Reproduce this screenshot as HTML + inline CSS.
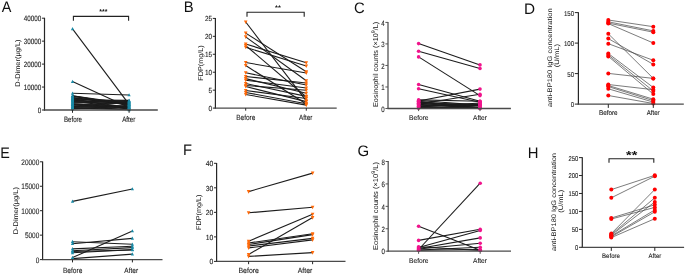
<!DOCTYPE html>
<html><head><meta charset="utf-8"><style>
html,body{margin:0;padding:0;background:#fff;overflow:hidden;}
svg{display:block;will-change:transform;}
text{text-rendering:geometricPrecision;font-family:"Liberation Sans", sans-serif;fill:#1a1a1a;stroke:#1a1a1a;stroke-width:0.1px;}
text.lt{stroke:none;fill:#111;}
text.yl{stroke:none;fill:#111;}
text.st{stroke:none;font-weight:bold;fill:#111;}
</style></head><body>
<svg width="685" height="275" viewBox="0 0 685 275">
<rect width="685" height="275" fill="#fff"/>
<text x="1.67" y="11.60" font-size="15.2" text-anchor="start" textLength="9.66" lengthAdjust="spacingAndGlyphs" class="lt">A</text>
<line x1="72.50" y1="28.80" x2="129.10" y2="104.40" stroke="#1c1c1c" stroke-width="1.1"/>
<line x1="72.50" y1="81.60" x2="129.10" y2="107.50" stroke="#1c1c1c" stroke-width="1.1"/>
<line x1="72.50" y1="93.30" x2="129.10" y2="95.00" stroke="#1c1c1c" stroke-width="1.1"/>
<line x1="72.50" y1="95.83" x2="129.10" y2="105.29" stroke="#1c1c1c" stroke-width="1.1"/>
<line x1="72.50" y1="95.84" x2="129.10" y2="103.78" stroke="#1c1c1c" stroke-width="1.1"/>
<line x1="72.50" y1="96.36" x2="129.10" y2="104.54" stroke="#1c1c1c" stroke-width="1.1"/>
<line x1="72.50" y1="97.50" x2="129.10" y2="104.16" stroke="#1c1c1c" stroke-width="1.1"/>
<line x1="72.50" y1="97.85" x2="129.10" y2="104.91" stroke="#1c1c1c" stroke-width="1.1"/>
<line x1="72.50" y1="98.51" x2="129.10" y2="109.42" stroke="#1c1c1c" stroke-width="1.1"/>
<line x1="72.50" y1="98.74" x2="129.10" y2="101.53" stroke="#1c1c1c" stroke-width="1.1"/>
<line x1="72.50" y1="99.47" x2="129.10" y2="107.54" stroke="#1c1c1c" stroke-width="1.1"/>
<line x1="72.50" y1="99.74" x2="129.10" y2="100.40" stroke="#1c1c1c" stroke-width="1.1"/>
<line x1="72.50" y1="100.31" x2="129.10" y2="103.41" stroke="#1c1c1c" stroke-width="1.1"/>
<line x1="72.50" y1="100.90" x2="129.10" y2="108.67" stroke="#1c1c1c" stroke-width="1.1"/>
<line x1="72.50" y1="101.24" x2="129.10" y2="101.15" stroke="#1c1c1c" stroke-width="1.1"/>
<line x1="72.50" y1="101.84" x2="129.10" y2="101.90" stroke="#1c1c1c" stroke-width="1.1"/>
<line x1="72.50" y1="102.78" x2="129.10" y2="103.03" stroke="#1c1c1c" stroke-width="1.1"/>
<line x1="72.50" y1="103.15" x2="129.10" y2="100.78" stroke="#1c1c1c" stroke-width="1.1"/>
<line x1="72.50" y1="103.80" x2="129.10" y2="107.92" stroke="#1c1c1c" stroke-width="1.1"/>
<line x1="72.50" y1="104.61" x2="129.10" y2="106.04" stroke="#1c1c1c" stroke-width="1.1"/>
<line x1="72.50" y1="104.56" x2="129.10" y2="108.30" stroke="#1c1c1c" stroke-width="1.1"/>
<line x1="72.50" y1="105.22" x2="129.10" y2="102.28" stroke="#1c1c1c" stroke-width="1.1"/>
<line x1="72.50" y1="106.12" x2="129.10" y2="102.66" stroke="#1c1c1c" stroke-width="1.1"/>
<line x1="72.50" y1="106.49" x2="129.10" y2="107.17" stroke="#1c1c1c" stroke-width="1.1"/>
<line x1="72.50" y1="106.69" x2="129.10" y2="106.42" stroke="#1c1c1c" stroke-width="1.1"/>
<line x1="72.50" y1="107.61" x2="129.10" y2="109.05" stroke="#1c1c1c" stroke-width="1.1"/>
<line x1="72.50" y1="107.84" x2="129.10" y2="109.80" stroke="#1c1c1c" stroke-width="1.1"/>
<line x1="72.50" y1="108.38" x2="129.10" y2="106.79" stroke="#1c1c1c" stroke-width="1.1"/>
<line x1="72.50" y1="109.05" x2="129.10" y2="105.66" stroke="#1c1c1c" stroke-width="1.1"/>
<path d="M72.50,26.96 L74.10,30.16 L70.90,30.16Z" fill="#1a8aa6"/>
<path d="M129.10,102.56 L130.70,105.76 L127.50,105.76Z" fill="#1a8aa6"/>
<path d="M72.50,79.76 L74.10,82.96 L70.90,82.96Z" fill="#1a8aa6"/>
<path d="M129.10,105.66 L130.70,108.86 L127.50,108.86Z" fill="#1a8aa6"/>
<path d="M72.50,91.46 L74.10,94.66 L70.90,94.66Z" fill="#1a8aa6"/>
<path d="M129.10,93.16 L130.70,96.36 L127.50,96.36Z" fill="#1a8aa6"/>
<path d="M72.50,93.99 L74.10,97.19 L70.90,97.19Z" fill="#1a8aa6"/>
<path d="M129.10,103.45 L130.70,106.65 L127.50,106.65Z" fill="#1a8aa6"/>
<path d="M72.50,94.00 L74.10,97.20 L70.90,97.20Z" fill="#1a8aa6"/>
<path d="M129.10,101.94 L130.70,105.14 L127.50,105.14Z" fill="#1a8aa6"/>
<path d="M72.50,94.52 L74.10,97.72 L70.90,97.72Z" fill="#1a8aa6"/>
<path d="M129.10,102.70 L130.70,105.90 L127.50,105.90Z" fill="#1a8aa6"/>
<path d="M72.50,95.66 L74.10,98.86 L70.90,98.86Z" fill="#1a8aa6"/>
<path d="M129.10,102.32 L130.70,105.52 L127.50,105.52Z" fill="#1a8aa6"/>
<path d="M72.50,96.01 L74.10,99.21 L70.90,99.21Z" fill="#1a8aa6"/>
<path d="M129.10,103.07 L130.70,106.27 L127.50,106.27Z" fill="#1a8aa6"/>
<path d="M72.50,96.67 L74.10,99.87 L70.90,99.87Z" fill="#1a8aa6"/>
<path d="M129.10,107.58 L130.70,110.78 L127.50,110.78Z" fill="#1a8aa6"/>
<path d="M72.50,96.90 L74.10,100.10 L70.90,100.10Z" fill="#1a8aa6"/>
<path d="M129.10,99.69 L130.70,102.89 L127.50,102.89Z" fill="#1a8aa6"/>
<path d="M72.50,97.63 L74.10,100.83 L70.90,100.83Z" fill="#1a8aa6"/>
<path d="M129.10,105.70 L130.70,108.90 L127.50,108.90Z" fill="#1a8aa6"/>
<path d="M72.50,97.90 L74.10,101.10 L70.90,101.10Z" fill="#1a8aa6"/>
<path d="M129.10,98.56 L130.70,101.76 L127.50,101.76Z" fill="#1a8aa6"/>
<path d="M72.50,98.47 L74.10,101.67 L70.90,101.67Z" fill="#1a8aa6"/>
<path d="M129.10,101.57 L130.70,104.77 L127.50,104.77Z" fill="#1a8aa6"/>
<path d="M72.50,99.06 L74.10,102.26 L70.90,102.26Z" fill="#1a8aa6"/>
<path d="M129.10,106.83 L130.70,110.03 L127.50,110.03Z" fill="#1a8aa6"/>
<path d="M72.50,99.40 L74.10,102.60 L70.90,102.60Z" fill="#1a8aa6"/>
<path d="M129.10,99.31 L130.70,102.51 L127.50,102.51Z" fill="#1a8aa6"/>
<path d="M72.50,100.00 L74.10,103.20 L70.90,103.20Z" fill="#1a8aa6"/>
<path d="M129.10,100.06 L130.70,103.26 L127.50,103.26Z" fill="#1a8aa6"/>
<path d="M72.50,100.94 L74.10,104.14 L70.90,104.14Z" fill="#1a8aa6"/>
<path d="M129.10,101.19 L130.70,104.39 L127.50,104.39Z" fill="#1a8aa6"/>
<path d="M72.50,101.31 L74.10,104.51 L70.90,104.51Z" fill="#1a8aa6"/>
<path d="M129.10,98.94 L130.70,102.14 L127.50,102.14Z" fill="#1a8aa6"/>
<path d="M72.50,101.96 L74.10,105.16 L70.90,105.16Z" fill="#1a8aa6"/>
<path d="M129.10,106.08 L130.70,109.28 L127.50,109.28Z" fill="#1a8aa6"/>
<path d="M72.50,102.77 L74.10,105.97 L70.90,105.97Z" fill="#1a8aa6"/>
<path d="M129.10,104.20 L130.70,107.40 L127.50,107.40Z" fill="#1a8aa6"/>
<path d="M72.50,102.72 L74.10,105.92 L70.90,105.92Z" fill="#1a8aa6"/>
<path d="M129.10,106.46 L130.70,109.66 L127.50,109.66Z" fill="#1a8aa6"/>
<path d="M72.50,103.38 L74.10,106.58 L70.90,106.58Z" fill="#1a8aa6"/>
<path d="M129.10,100.44 L130.70,103.64 L127.50,103.64Z" fill="#1a8aa6"/>
<path d="M72.50,104.28 L74.10,107.48 L70.90,107.48Z" fill="#1a8aa6"/>
<path d="M129.10,100.82 L130.70,104.02 L127.50,104.02Z" fill="#1a8aa6"/>
<path d="M72.50,104.65 L74.10,107.85 L70.90,107.85Z" fill="#1a8aa6"/>
<path d="M129.10,105.33 L130.70,108.53 L127.50,108.53Z" fill="#1a8aa6"/>
<path d="M72.50,104.85 L74.10,108.05 L70.90,108.05Z" fill="#1a8aa6"/>
<path d="M129.10,104.58 L130.70,107.78 L127.50,107.78Z" fill="#1a8aa6"/>
<path d="M72.50,105.77 L74.10,108.97 L70.90,108.97Z" fill="#1a8aa6"/>
<path d="M129.10,107.21 L130.70,110.41 L127.50,110.41Z" fill="#1a8aa6"/>
<path d="M72.50,106.00 L74.10,109.20 L70.90,109.20Z" fill="#1a8aa6"/>
<path d="M129.10,107.96 L130.70,111.16 L127.50,111.16Z" fill="#1a8aa6"/>
<path d="M72.50,106.54 L74.10,109.74 L70.90,109.74Z" fill="#1a8aa6"/>
<path d="M129.10,104.95 L130.70,108.15 L127.50,108.15Z" fill="#1a8aa6"/>
<path d="M72.50,107.21 L74.10,110.41 L70.90,110.41Z" fill="#1a8aa6"/>
<path d="M129.10,103.82 L130.70,107.02 L127.50,107.02Z" fill="#1a8aa6"/>
<line x1="44.50" y1="17.80" x2="44.50" y2="110.50" stroke="#262626" stroke-width="1.2"/>
<line x1="43.90" y1="110.00" x2="157.80" y2="110.00" stroke="#4a4a4a" stroke-width="1.3"/>
<line x1="41.90" y1="18.20" x2="44.50" y2="18.20" stroke="#262626" stroke-width="1"/>
<text x="41.20" y="21.39" font-size="7.8" text-anchor="end" textLength="17.5" lengthAdjust="spacingAndGlyphs">40000</text>
<line x1="41.90" y1="41.15" x2="44.50" y2="41.15" stroke="#262626" stroke-width="1"/>
<text x="41.20" y="44.34" font-size="7.8" text-anchor="end" textLength="17.5" lengthAdjust="spacingAndGlyphs">30000</text>
<line x1="41.90" y1="64.10" x2="44.50" y2="64.10" stroke="#262626" stroke-width="1"/>
<text x="41.20" y="67.29" font-size="7.8" text-anchor="end" textLength="17.5" lengthAdjust="spacingAndGlyphs">20000</text>
<line x1="41.90" y1="87.05" x2="44.50" y2="87.05" stroke="#262626" stroke-width="1"/>
<text x="41.20" y="90.24" font-size="7.8" text-anchor="end" textLength="17.5" lengthAdjust="spacingAndGlyphs">10000</text>
<line x1="41.90" y1="110.00" x2="44.50" y2="110.00" stroke="#262626" stroke-width="1"/>
<text x="41.20" y="113.19" font-size="7.8" text-anchor="end" textLength="3.5" lengthAdjust="spacingAndGlyphs">0</text>
<line x1="72.50" y1="110.00" x2="72.50" y2="112.80" stroke="#262626" stroke-width="1"/>
<line x1="129.10" y1="110.00" x2="129.10" y2="112.80" stroke="#262626" stroke-width="1"/>
<text x="73.00" y="121.70" font-size="7.8" text-anchor="middle" textLength="18.0" lengthAdjust="spacingAndGlyphs">Before</text>
<text x="128.70" y="121.70" font-size="7.8" text-anchor="middle" textLength="13.1" lengthAdjust="spacingAndGlyphs">After</text>
<text transform="translate(20.2,63.1) rotate(-90)" x="0" y="0" font-size="6.9" text-anchor="middle" textLength="47.2" lengthAdjust="spacingAndGlyphs" class="yl">D-Dimer(μg/L)</text>
<path d="M73.4,20.8 V16.4 H128.6 V20.8" fill="none" stroke="#222" stroke-width="1.1"/>
<text x="103.30" y="13.90" font-size="7.2" text-anchor="middle" textLength="8.2" lengthAdjust="spacingAndGlyphs" class="st">***</text>
<text x="183.70" y="11.80" font-size="15.2" text-anchor="start" textLength="9.89" lengthAdjust="spacingAndGlyphs" class="lt">B</text>
<line x1="245.70" y1="22.00" x2="306.30" y2="100.80" stroke="#1c1c1c" stroke-width="1.1"/>
<line x1="245.70" y1="33.10" x2="306.30" y2="71.80" stroke="#1c1c1c" stroke-width="1.1"/>
<line x1="245.70" y1="36.90" x2="306.30" y2="80.70" stroke="#1c1c1c" stroke-width="1.1"/>
<line x1="245.70" y1="44.00" x2="306.30" y2="62.80" stroke="#1c1c1c" stroke-width="1.1"/>
<line x1="245.70" y1="45.60" x2="306.30" y2="97.00" stroke="#1c1c1c" stroke-width="1.1"/>
<line x1="245.70" y1="47.30" x2="306.30" y2="66.00" stroke="#1c1c1c" stroke-width="1.1"/>
<line x1="245.70" y1="62.50" x2="306.30" y2="73.00" stroke="#1c1c1c" stroke-width="1.1"/>
<line x1="245.70" y1="65.50" x2="306.30" y2="104.00" stroke="#1c1c1c" stroke-width="1.1"/>
<line x1="245.70" y1="72.80" x2="306.30" y2="85.00" stroke="#1c1c1c" stroke-width="1.1"/>
<line x1="245.70" y1="76.50" x2="306.30" y2="83.00" stroke="#1c1c1c" stroke-width="1.1"/>
<line x1="245.70" y1="80.20" x2="306.30" y2="88.00" stroke="#1c1c1c" stroke-width="1.1"/>
<line x1="245.70" y1="78.60" x2="306.30" y2="93.30" stroke="#1c1c1c" stroke-width="1.1"/>
<line x1="245.70" y1="83.50" x2="306.30" y2="96.40" stroke="#1c1c1c" stroke-width="1.1"/>
<line x1="245.70" y1="85.50" x2="306.30" y2="90.20" stroke="#1c1c1c" stroke-width="1.1"/>
<line x1="245.70" y1="86.50" x2="306.30" y2="101.60" stroke="#1c1c1c" stroke-width="1.1"/>
<line x1="245.70" y1="90.50" x2="306.30" y2="98.50" stroke="#1c1c1c" stroke-width="1.1"/>
<line x1="245.70" y1="92.50" x2="306.30" y2="103.70" stroke="#1c1c1c" stroke-width="1.1"/>
<line x1="245.70" y1="94.50" x2="306.30" y2="105.10" stroke="#1c1c1c" stroke-width="1.1"/>
<path d="M243.90,20.47 L247.50,20.47 L245.70,24.07Z" fill="#ff6a0a"/>
<path d="M304.50,99.27 L308.10,99.27 L306.30,102.87Z" fill="#ff6a0a"/>
<path d="M243.90,31.57 L247.50,31.57 L245.70,35.17Z" fill="#ff6a0a"/>
<path d="M304.50,70.27 L308.10,70.27 L306.30,73.87Z" fill="#ff6a0a"/>
<path d="M243.90,35.37 L247.50,35.37 L245.70,38.97Z" fill="#ff6a0a"/>
<path d="M304.50,79.17 L308.10,79.17 L306.30,82.77Z" fill="#ff6a0a"/>
<path d="M243.90,42.47 L247.50,42.47 L245.70,46.07Z" fill="#ff6a0a"/>
<path d="M304.50,61.27 L308.10,61.27 L306.30,64.87Z" fill="#ff6a0a"/>
<path d="M243.90,44.07 L247.50,44.07 L245.70,47.67Z" fill="#ff6a0a"/>
<path d="M304.50,95.47 L308.10,95.47 L306.30,99.07Z" fill="#ff6a0a"/>
<path d="M243.90,45.77 L247.50,45.77 L245.70,49.37Z" fill="#ff6a0a"/>
<path d="M304.50,64.47 L308.10,64.47 L306.30,68.07Z" fill="#ff6a0a"/>
<path d="M243.90,60.97 L247.50,60.97 L245.70,64.57Z" fill="#ff6a0a"/>
<path d="M304.50,71.47 L308.10,71.47 L306.30,75.07Z" fill="#ff6a0a"/>
<path d="M243.90,63.97 L247.50,63.97 L245.70,67.57Z" fill="#ff6a0a"/>
<path d="M304.50,102.47 L308.10,102.47 L306.30,106.07Z" fill="#ff6a0a"/>
<path d="M243.90,71.27 L247.50,71.27 L245.70,74.87Z" fill="#ff6a0a"/>
<path d="M304.50,83.47 L308.10,83.47 L306.30,87.07Z" fill="#ff6a0a"/>
<path d="M243.90,74.97 L247.50,74.97 L245.70,78.57Z" fill="#ff6a0a"/>
<path d="M304.50,81.47 L308.10,81.47 L306.30,85.07Z" fill="#ff6a0a"/>
<path d="M243.90,78.67 L247.50,78.67 L245.70,82.27Z" fill="#ff6a0a"/>
<path d="M304.50,86.47 L308.10,86.47 L306.30,90.07Z" fill="#ff6a0a"/>
<path d="M243.90,77.07 L247.50,77.07 L245.70,80.67Z" fill="#ff6a0a"/>
<path d="M304.50,91.77 L308.10,91.77 L306.30,95.37Z" fill="#ff6a0a"/>
<path d="M243.90,81.97 L247.50,81.97 L245.70,85.57Z" fill="#ff6a0a"/>
<path d="M304.50,94.87 L308.10,94.87 L306.30,98.47Z" fill="#ff6a0a"/>
<path d="M243.90,83.97 L247.50,83.97 L245.70,87.57Z" fill="#ff6a0a"/>
<path d="M304.50,88.67 L308.10,88.67 L306.30,92.27Z" fill="#ff6a0a"/>
<path d="M243.90,84.97 L247.50,84.97 L245.70,88.57Z" fill="#ff6a0a"/>
<path d="M304.50,100.07 L308.10,100.07 L306.30,103.67Z" fill="#ff6a0a"/>
<path d="M243.90,88.97 L247.50,88.97 L245.70,92.57Z" fill="#ff6a0a"/>
<path d="M304.50,96.97 L308.10,96.97 L306.30,100.57Z" fill="#ff6a0a"/>
<path d="M243.90,90.97 L247.50,90.97 L245.70,94.57Z" fill="#ff6a0a"/>
<path d="M304.50,102.17 L308.10,102.17 L306.30,105.77Z" fill="#ff6a0a"/>
<path d="M243.90,92.97 L247.50,92.97 L245.70,96.57Z" fill="#ff6a0a"/>
<path d="M304.50,103.57 L308.10,103.57 L306.30,107.17Z" fill="#ff6a0a"/>
<line x1="215.40" y1="18.00" x2="215.40" y2="108.60" stroke="#262626" stroke-width="1.2"/>
<line x1="214.80" y1="108.10" x2="336.70" y2="108.10" stroke="#4a4a4a" stroke-width="1.3"/>
<line x1="212.80" y1="18.40" x2="215.40" y2="18.40" stroke="#262626" stroke-width="1"/>
<text x="212.10" y="21.45" font-size="7.4" text-anchor="end" textLength="7.2" lengthAdjust="spacingAndGlyphs">25</text>
<line x1="212.80" y1="36.34" x2="215.40" y2="36.34" stroke="#262626" stroke-width="1"/>
<text x="212.10" y="39.39" font-size="7.4" text-anchor="end" textLength="7.2" lengthAdjust="spacingAndGlyphs">20</text>
<line x1="212.80" y1="54.28" x2="215.40" y2="54.28" stroke="#262626" stroke-width="1"/>
<text x="212.10" y="57.33" font-size="7.4" text-anchor="end" textLength="7.2" lengthAdjust="spacingAndGlyphs">15</text>
<line x1="212.80" y1="72.22" x2="215.40" y2="72.22" stroke="#262626" stroke-width="1"/>
<text x="212.10" y="75.27" font-size="7.4" text-anchor="end" textLength="7.2" lengthAdjust="spacingAndGlyphs">10</text>
<line x1="212.80" y1="90.16" x2="215.40" y2="90.16" stroke="#262626" stroke-width="1"/>
<text x="212.10" y="93.21" font-size="7.4" text-anchor="end" textLength="3.6" lengthAdjust="spacingAndGlyphs">5</text>
<line x1="212.80" y1="108.10" x2="215.40" y2="108.10" stroke="#262626" stroke-width="1"/>
<text x="212.10" y="111.15" font-size="7.4" text-anchor="end" textLength="3.6" lengthAdjust="spacingAndGlyphs">0</text>
<line x1="245.70" y1="108.10" x2="245.70" y2="110.70" stroke="#262626" stroke-width="1"/>
<line x1="306.30" y1="108.10" x2="306.30" y2="110.70" stroke="#262626" stroke-width="1"/>
<text x="245.80" y="119.70" font-size="7.6" text-anchor="middle" textLength="19.1" lengthAdjust="spacingAndGlyphs">Before</text>
<text x="305.70" y="119.70" font-size="7.6" text-anchor="middle" textLength="13.4" lengthAdjust="spacingAndGlyphs">After</text>
<text transform="translate(202.6,63.0) rotate(-90)" x="0" y="0" font-size="6.9" text-anchor="middle" textLength="35.4" lengthAdjust="spacingAndGlyphs" class="yl">FDP(mg/L)</text>
<path d="M247,16.7 V12.3 H304.2 V16.7" fill="none" stroke="#222" stroke-width="1.1"/>
<text x="278.00" y="9.60" font-size="6.8" text-anchor="middle" textLength="5.8" lengthAdjust="spacingAndGlyphs" class="st">**</text>
<text x="353.90" y="12.60" font-size="15.2" text-anchor="start" textLength="10.69" lengthAdjust="spacingAndGlyphs" class="lt">C</text>
<line x1="418.60" y1="43.60" x2="480.00" y2="64.90" stroke="#1c1c1c" stroke-width="1.1"/>
<line x1="418.60" y1="51.30" x2="480.00" y2="68.50" stroke="#1c1c1c" stroke-width="1.1"/>
<line x1="418.60" y1="56.90" x2="480.00" y2="95.60" stroke="#1c1c1c" stroke-width="1.1"/>
<line x1="418.60" y1="84.50" x2="480.00" y2="101.20" stroke="#1c1c1c" stroke-width="1.1"/>
<line x1="418.60" y1="88.80" x2="480.00" y2="102.30" stroke="#1c1c1c" stroke-width="1.1"/>
<line x1="418.60" y1="101.00" x2="480.00" y2="89.10" stroke="#1c1c1c" stroke-width="1.1"/>
<line x1="418.60" y1="104.00" x2="480.00" y2="94.20" stroke="#1c1c1c" stroke-width="1.1"/>
<line x1="418.60" y1="108.28" x2="480.00" y2="106.00" stroke="#1c1c1c" stroke-width="1.1"/>
<line x1="418.60" y1="107.64" x2="480.00" y2="107.48" stroke="#1c1c1c" stroke-width="1.1"/>
<line x1="418.60" y1="106.99" x2="480.00" y2="102.99" stroke="#1c1c1c" stroke-width="1.1"/>
<line x1="418.60" y1="106.35" x2="480.00" y2="108.10" stroke="#1c1c1c" stroke-width="1.1"/>
<line x1="418.60" y1="105.71" x2="480.00" y2="104.07" stroke="#1c1c1c" stroke-width="1.1"/>
<line x1="418.60" y1="105.06" x2="480.00" y2="105.62" stroke="#1c1c1c" stroke-width="1.1"/>
<line x1="418.60" y1="104.42" x2="480.00" y2="108.21" stroke="#1c1c1c" stroke-width="1.1"/>
<line x1="418.60" y1="103.78" x2="480.00" y2="104.33" stroke="#1c1c1c" stroke-width="1.1"/>
<line x1="418.60" y1="103.14" x2="480.00" y2="108.36" stroke="#1c1c1c" stroke-width="1.1"/>
<line x1="418.60" y1="102.49" x2="480.00" y2="105.01" stroke="#1c1c1c" stroke-width="1.1"/>
<line x1="418.60" y1="101.85" x2="480.00" y2="108.12" stroke="#1c1c1c" stroke-width="1.1"/>
<line x1="418.60" y1="101.21" x2="480.00" y2="107.96" stroke="#1c1c1c" stroke-width="1.1"/>
<line x1="418.60" y1="100.56" x2="480.00" y2="105.09" stroke="#1c1c1c" stroke-width="1.1"/>
<line x1="418.60" y1="99.92" x2="480.00" y2="101.30" stroke="#1c1c1c" stroke-width="1.1"/>
<circle cx="418.60" cy="43.60" r="1.8" fill="#f0148c"/>
<circle cx="480.00" cy="64.90" r="1.8" fill="#f0148c"/>
<circle cx="418.60" cy="51.30" r="1.8" fill="#f0148c"/>
<circle cx="480.00" cy="68.50" r="1.8" fill="#f0148c"/>
<circle cx="418.60" cy="56.90" r="1.8" fill="#f0148c"/>
<circle cx="480.00" cy="95.60" r="1.8" fill="#f0148c"/>
<circle cx="418.60" cy="84.50" r="1.8" fill="#f0148c"/>
<circle cx="480.00" cy="101.20" r="1.8" fill="#f0148c"/>
<circle cx="418.60" cy="88.80" r="1.8" fill="#f0148c"/>
<circle cx="480.00" cy="102.30" r="1.8" fill="#f0148c"/>
<circle cx="418.60" cy="101.00" r="1.8" fill="#f0148c"/>
<circle cx="480.00" cy="89.10" r="1.8" fill="#f0148c"/>
<circle cx="418.60" cy="104.00" r="1.8" fill="#f0148c"/>
<circle cx="480.00" cy="94.20" r="1.8" fill="#f0148c"/>
<circle cx="418.60" cy="108.28" r="1.8" fill="#f0148c"/>
<circle cx="480.00" cy="106.00" r="1.8" fill="#f0148c"/>
<circle cx="418.60" cy="107.64" r="1.8" fill="#f0148c"/>
<circle cx="480.00" cy="107.48" r="1.8" fill="#f0148c"/>
<circle cx="418.60" cy="106.99" r="1.8" fill="#f0148c"/>
<circle cx="480.00" cy="102.99" r="1.8" fill="#f0148c"/>
<circle cx="418.60" cy="106.35" r="1.8" fill="#f0148c"/>
<circle cx="480.00" cy="108.10" r="1.8" fill="#f0148c"/>
<circle cx="418.60" cy="105.71" r="1.8" fill="#f0148c"/>
<circle cx="480.00" cy="104.07" r="1.8" fill="#f0148c"/>
<circle cx="418.60" cy="105.06" r="1.8" fill="#f0148c"/>
<circle cx="480.00" cy="105.62" r="1.8" fill="#f0148c"/>
<circle cx="418.60" cy="104.42" r="1.8" fill="#f0148c"/>
<circle cx="480.00" cy="108.21" r="1.8" fill="#f0148c"/>
<circle cx="418.60" cy="103.78" r="1.8" fill="#f0148c"/>
<circle cx="480.00" cy="104.33" r="1.8" fill="#f0148c"/>
<circle cx="418.60" cy="103.14" r="1.8" fill="#f0148c"/>
<circle cx="480.00" cy="108.36" r="1.8" fill="#f0148c"/>
<circle cx="418.60" cy="102.49" r="1.8" fill="#f0148c"/>
<circle cx="480.00" cy="105.01" r="1.8" fill="#f0148c"/>
<circle cx="418.60" cy="101.85" r="1.8" fill="#f0148c"/>
<circle cx="480.00" cy="108.12" r="1.8" fill="#f0148c"/>
<circle cx="418.60" cy="101.21" r="1.8" fill="#f0148c"/>
<circle cx="480.00" cy="107.96" r="1.8" fill="#f0148c"/>
<circle cx="418.60" cy="100.56" r="1.8" fill="#f0148c"/>
<circle cx="480.00" cy="105.09" r="1.8" fill="#f0148c"/>
<circle cx="418.60" cy="99.92" r="1.8" fill="#f0148c"/>
<circle cx="480.00" cy="101.30" r="1.8" fill="#f0148c"/>
<line x1="388.00" y1="22.00" x2="388.00" y2="109.00" stroke="#555" stroke-width="1.3"/>
<line x1="387.40" y1="108.50" x2="510.90" y2="108.50" stroke="#4a4a4a" stroke-width="1.3"/>
<line x1="385.40" y1="22.40" x2="388.00" y2="22.40" stroke="#555" stroke-width="1"/>
<text x="384.70" y="25.59" font-size="7.8" text-anchor="end" textLength="3.4" lengthAdjust="spacingAndGlyphs">4</text>
<line x1="385.40" y1="43.92" x2="388.00" y2="43.92" stroke="#555" stroke-width="1"/>
<text x="384.70" y="47.12" font-size="7.8" text-anchor="end" textLength="3.4" lengthAdjust="spacingAndGlyphs">3</text>
<line x1="385.40" y1="65.45" x2="388.00" y2="65.45" stroke="#555" stroke-width="1"/>
<text x="384.70" y="68.64" font-size="7.8" text-anchor="end" textLength="3.4" lengthAdjust="spacingAndGlyphs">2</text>
<line x1="385.40" y1="86.97" x2="388.00" y2="86.97" stroke="#555" stroke-width="1"/>
<text x="384.70" y="90.17" font-size="7.8" text-anchor="end" textLength="3.4" lengthAdjust="spacingAndGlyphs">1</text>
<line x1="385.40" y1="108.50" x2="388.00" y2="108.50" stroke="#555" stroke-width="1"/>
<text x="384.70" y="111.69" font-size="7.8" text-anchor="end" textLength="3.4" lengthAdjust="spacingAndGlyphs">0</text>
<line x1="418.60" y1="108.50" x2="418.60" y2="111.10" stroke="#555" stroke-width="1"/>
<line x1="480.00" y1="108.50" x2="480.00" y2="111.10" stroke="#555" stroke-width="1"/>
<text x="418.80" y="119.80" font-size="7.0" text-anchor="middle" textLength="19.5" lengthAdjust="spacingAndGlyphs">Before</text>
<text x="480.00" y="119.80" font-size="7.0" text-anchor="middle" textLength="13.9" lengthAdjust="spacingAndGlyphs">After</text>
<text transform="translate(377.9,64.4) rotate(-90)" x="0" y="0" font-size="7.1" text-anchor="middle" textLength="85.2" lengthAdjust="spacingAndGlyphs" class="yl">Eosinophil counts (×10<tspan dy="-2.5" font-size="5.2">9</tspan><tspan dy="2.5">/L)</tspan></text>
<text x="523.90" y="13.50" font-size="15.2" text-anchor="start" textLength="11.08" lengthAdjust="spacingAndGlyphs" class="lt">D</text>
<line x1="608.30" y1="20.00" x2="653.30" y2="26.70" stroke="#444" stroke-width="0.7"/>
<line x1="608.30" y1="21.80" x2="653.30" y2="30.90" stroke="#444" stroke-width="0.7"/>
<line x1="608.30" y1="23.10" x2="653.30" y2="32.20" stroke="#444" stroke-width="0.7"/>
<line x1="608.30" y1="23.60" x2="653.30" y2="43.00" stroke="#444" stroke-width="0.7"/>
<line x1="608.30" y1="33.80" x2="653.30" y2="78.40" stroke="#444" stroke-width="0.7"/>
<line x1="608.30" y1="38.60" x2="653.30" y2="64.40" stroke="#444" stroke-width="0.7"/>
<line x1="608.30" y1="43.70" x2="653.30" y2="60.30" stroke="#444" stroke-width="0.7"/>
<line x1="608.30" y1="53.50" x2="653.30" y2="87.50" stroke="#444" stroke-width="0.7"/>
<line x1="608.30" y1="55.00" x2="653.30" y2="91.00" stroke="#444" stroke-width="0.7"/>
<line x1="608.30" y1="56.40" x2="653.30" y2="94.10" stroke="#444" stroke-width="0.7"/>
<line x1="608.30" y1="73.40" x2="653.30" y2="78.40" stroke="#444" stroke-width="0.7"/>
<line x1="608.30" y1="84.50" x2="653.30" y2="89.70" stroke="#444" stroke-width="0.7"/>
<line x1="608.30" y1="86.60" x2="653.30" y2="100.60" stroke="#444" stroke-width="0.7"/>
<line x1="608.30" y1="88.80" x2="653.30" y2="102.10" stroke="#444" stroke-width="0.7"/>
<line x1="608.30" y1="95.50" x2="653.30" y2="103.50" stroke="#444" stroke-width="0.7"/>
<line x1="608.30" y1="85.50" x2="653.30" y2="99.20" stroke="#444" stroke-width="0.7"/>
<circle cx="608.30" cy="20.00" r="2.0" fill="#ff0000"/>
<circle cx="653.30" cy="26.70" r="2.0" fill="#ff0000"/>
<circle cx="608.30" cy="21.80" r="2.0" fill="#ff0000"/>
<circle cx="653.30" cy="30.90" r="2.0" fill="#ff0000"/>
<circle cx="608.30" cy="23.10" r="2.0" fill="#ff0000"/>
<circle cx="653.30" cy="32.20" r="2.0" fill="#ff0000"/>
<circle cx="608.30" cy="23.60" r="2.0" fill="#ff0000"/>
<circle cx="653.30" cy="43.00" r="2.0" fill="#ff0000"/>
<circle cx="608.30" cy="33.80" r="2.0" fill="#ff0000"/>
<circle cx="653.30" cy="78.40" r="2.0" fill="#ff0000"/>
<circle cx="608.30" cy="38.60" r="2.0" fill="#ff0000"/>
<circle cx="653.30" cy="64.40" r="2.0" fill="#ff0000"/>
<circle cx="608.30" cy="43.70" r="2.0" fill="#ff0000"/>
<circle cx="653.30" cy="60.30" r="2.0" fill="#ff0000"/>
<circle cx="608.30" cy="53.50" r="2.0" fill="#ff0000"/>
<circle cx="653.30" cy="87.50" r="2.0" fill="#ff0000"/>
<circle cx="608.30" cy="55.00" r="2.0" fill="#ff0000"/>
<circle cx="653.30" cy="91.00" r="2.0" fill="#ff0000"/>
<circle cx="608.30" cy="56.40" r="2.0" fill="#ff0000"/>
<circle cx="653.30" cy="94.10" r="2.0" fill="#ff0000"/>
<circle cx="608.30" cy="73.40" r="2.0" fill="#ff0000"/>
<circle cx="653.30" cy="78.40" r="2.0" fill="#ff0000"/>
<circle cx="608.30" cy="84.50" r="2.0" fill="#ff0000"/>
<circle cx="653.30" cy="89.70" r="2.0" fill="#ff0000"/>
<circle cx="608.30" cy="86.60" r="2.0" fill="#ff0000"/>
<circle cx="653.30" cy="100.60" r="2.0" fill="#ff0000"/>
<circle cx="608.30" cy="88.80" r="2.0" fill="#ff0000"/>
<circle cx="653.30" cy="102.10" r="2.0" fill="#ff0000"/>
<circle cx="608.30" cy="95.50" r="2.0" fill="#ff0000"/>
<circle cx="653.30" cy="103.50" r="2.0" fill="#ff0000"/>
<circle cx="608.30" cy="85.50" r="2.0" fill="#ff0000"/>
<circle cx="653.30" cy="99.20" r="2.0" fill="#ff0000"/>
<line x1="578.40" y1="12.20" x2="578.40" y2="104.60" stroke="#262626" stroke-width="1.2"/>
<line x1="577.80" y1="104.10" x2="683.80" y2="104.10" stroke="#4a4a4a" stroke-width="1.3"/>
<line x1="574.80" y1="12.60" x2="578.40" y2="12.60" stroke="#262626" stroke-width="1"/>
<text x="574.10" y="15.51" font-size="7.0" text-anchor="end" textLength="10.2" lengthAdjust="spacingAndGlyphs">150</text>
<line x1="574.80" y1="43.10" x2="578.40" y2="43.10" stroke="#262626" stroke-width="1"/>
<text x="574.10" y="46.01" font-size="7.0" text-anchor="end" textLength="10.2" lengthAdjust="spacingAndGlyphs">100</text>
<line x1="574.80" y1="73.60" x2="578.40" y2="73.60" stroke="#262626" stroke-width="1"/>
<text x="574.10" y="76.51" font-size="7.0" text-anchor="end" textLength="6.8" lengthAdjust="spacingAndGlyphs">50</text>
<line x1="574.80" y1="104.10" x2="578.40" y2="104.10" stroke="#262626" stroke-width="1"/>
<text x="574.10" y="107.01" font-size="7.0" text-anchor="end" textLength="3.4" lengthAdjust="spacingAndGlyphs">0</text>
<line x1="608.30" y1="104.10" x2="608.30" y2="107.90" stroke="#262626" stroke-width="1"/>
<line x1="653.30" y1="104.10" x2="653.30" y2="107.90" stroke="#262626" stroke-width="1"/>
<text x="608.30" y="115.00" font-size="6.8" text-anchor="middle" textLength="18.7" lengthAdjust="spacingAndGlyphs">Before</text>
<text x="653.20" y="115.00" font-size="6.8" text-anchor="middle" textLength="12.8" lengthAdjust="spacingAndGlyphs">After</text>
<text transform="translate(551.8,57.7) rotate(-90)" x="0" y="0" font-size="6.6" text-anchor="middle" textLength="98.6" lengthAdjust="spacingAndGlyphs" class="yl">anti-BP180 IgG concentration</text>
<text transform="translate(559.4,55.6) rotate(-90)" x="0" y="0" font-size="6.6" text-anchor="middle" textLength="23.5" lengthAdjust="spacingAndGlyphs" class="yl">(U/mL)</text>
<text x="0.32" y="158.00" font-size="15.2" text-anchor="start" textLength="9.58" lengthAdjust="spacingAndGlyphs" class="lt">E</text>
<line x1="72.50" y1="201.40" x2="132.40" y2="189.00" stroke="#1c1c1c" stroke-width="1.1"/>
<line x1="72.50" y1="257.60" x2="132.40" y2="231.00" stroke="#1c1c1c" stroke-width="1.1"/>
<line x1="72.50" y1="241.70" x2="132.40" y2="244.30" stroke="#1c1c1c" stroke-width="1.1"/>
<line x1="72.50" y1="243.70" x2="132.40" y2="238.40" stroke="#1c1c1c" stroke-width="1.1"/>
<line x1="72.50" y1="248.90" x2="132.40" y2="246.30" stroke="#1c1c1c" stroke-width="1.1"/>
<line x1="72.50" y1="250.80" x2="132.40" y2="247.60" stroke="#1c1c1c" stroke-width="1.1"/>
<line x1="72.50" y1="252.80" x2="132.40" y2="249.60" stroke="#1c1c1c" stroke-width="1.1"/>
<line x1="72.50" y1="258.60" x2="132.40" y2="254.10" stroke="#1c1c1c" stroke-width="1.1"/>
<line x1="72.50" y1="251.50" x2="132.40" y2="250.00" stroke="#1c1c1c" stroke-width="1.1"/>
<path d="M72.50,199.56 L74.10,202.76 L70.90,202.76Z" fill="#1a8aa6"/>
<path d="M132.40,187.16 L134.00,190.36 L130.80,190.36Z" fill="#1a8aa6"/>
<path d="M72.50,255.76 L74.10,258.96 L70.90,258.96Z" fill="#1a8aa6"/>
<path d="M132.40,229.16 L134.00,232.36 L130.80,232.36Z" fill="#1a8aa6"/>
<path d="M72.50,239.86 L74.10,243.06 L70.90,243.06Z" fill="#1a8aa6"/>
<path d="M132.40,242.46 L134.00,245.66 L130.80,245.66Z" fill="#1a8aa6"/>
<path d="M72.50,241.86 L74.10,245.06 L70.90,245.06Z" fill="#1a8aa6"/>
<path d="M132.40,236.56 L134.00,239.76 L130.80,239.76Z" fill="#1a8aa6"/>
<path d="M72.50,247.06 L74.10,250.26 L70.90,250.26Z" fill="#1a8aa6"/>
<path d="M132.40,244.46 L134.00,247.66 L130.80,247.66Z" fill="#1a8aa6"/>
<path d="M72.50,248.96 L74.10,252.16 L70.90,252.16Z" fill="#1a8aa6"/>
<path d="M132.40,245.76 L134.00,248.96 L130.80,248.96Z" fill="#1a8aa6"/>
<path d="M72.50,250.96 L74.10,254.16 L70.90,254.16Z" fill="#1a8aa6"/>
<path d="M132.40,247.76 L134.00,250.96 L130.80,250.96Z" fill="#1a8aa6"/>
<path d="M72.50,256.76 L74.10,259.96 L70.90,259.96Z" fill="#1a8aa6"/>
<path d="M132.40,252.26 L134.00,255.46 L130.80,255.46Z" fill="#1a8aa6"/>
<path d="M72.50,249.66 L74.10,252.86 L70.90,252.86Z" fill="#1a8aa6"/>
<path d="M132.40,248.16 L134.00,251.36 L130.80,251.36Z" fill="#1a8aa6"/>
<line x1="42.60" y1="161.40" x2="42.60" y2="260.10" stroke="#262626" stroke-width="1.2"/>
<line x1="42.00" y1="259.60" x2="162.50" y2="259.60" stroke="#4a4a4a" stroke-width="1.3"/>
<line x1="40.00" y1="161.80" x2="42.60" y2="161.80" stroke="#262626" stroke-width="1"/>
<text x="39.30" y="165.03" font-size="7.9" text-anchor="end" textLength="18.0" lengthAdjust="spacingAndGlyphs">20000</text>
<line x1="40.00" y1="186.25" x2="42.60" y2="186.25" stroke="#262626" stroke-width="1"/>
<text x="39.30" y="189.48" font-size="7.9" text-anchor="end" textLength="18.0" lengthAdjust="spacingAndGlyphs">15000</text>
<line x1="40.00" y1="210.70" x2="42.60" y2="210.70" stroke="#262626" stroke-width="1"/>
<text x="39.30" y="213.93" font-size="7.9" text-anchor="end" textLength="18.0" lengthAdjust="spacingAndGlyphs">10000</text>
<line x1="40.00" y1="235.15" x2="42.60" y2="235.15" stroke="#262626" stroke-width="1"/>
<text x="39.30" y="238.38" font-size="7.9" text-anchor="end" textLength="14.4" lengthAdjust="spacingAndGlyphs">5000</text>
<line x1="40.00" y1="259.60" x2="42.60" y2="259.60" stroke="#262626" stroke-width="1"/>
<text x="39.30" y="262.83" font-size="7.9" text-anchor="end" textLength="3.6" lengthAdjust="spacingAndGlyphs">0</text>
<line x1="72.50" y1="259.60" x2="72.50" y2="262.40" stroke="#262626" stroke-width="1"/>
<line x1="132.40" y1="259.60" x2="132.40" y2="262.40" stroke="#262626" stroke-width="1"/>
<text x="72.60" y="272.60" font-size="7.6" text-anchor="middle" textLength="19.4" lengthAdjust="spacingAndGlyphs">Before</text>
<text x="131.20" y="272.60" font-size="7.6" text-anchor="middle" textLength="13.7" lengthAdjust="spacingAndGlyphs">After</text>
<text transform="translate(18.2,210.7) rotate(-90)" x="0" y="0" font-size="6.9" text-anchor="middle" textLength="47.2" lengthAdjust="spacingAndGlyphs" class="yl">D-Dimer(μg/L)</text>
<text x="182.90" y="154.80" font-size="15.2" text-anchor="start" textLength="8.99" lengthAdjust="spacingAndGlyphs" class="lt">F</text>
<line x1="248.60" y1="191.60" x2="312.60" y2="173.10" stroke="#1c1c1c" stroke-width="1.1"/>
<line x1="248.60" y1="212.80" x2="312.60" y2="207.30" stroke="#1c1c1c" stroke-width="1.1"/>
<line x1="248.60" y1="241.20" x2="312.60" y2="214.20" stroke="#1c1c1c" stroke-width="1.1"/>
<line x1="248.60" y1="254.50" x2="312.60" y2="217.60" stroke="#1c1c1c" stroke-width="1.1"/>
<line x1="248.60" y1="256.40" x2="312.60" y2="252.60" stroke="#1c1c1c" stroke-width="1.1"/>
<line x1="248.60" y1="243.00" x2="312.60" y2="233.70" stroke="#1c1c1c" stroke-width="1.1"/>
<line x1="248.60" y1="244.50" x2="312.60" y2="234.60" stroke="#1c1c1c" stroke-width="1.1"/>
<line x1="248.60" y1="246.00" x2="312.60" y2="238.40" stroke="#1c1c1c" stroke-width="1.1"/>
<line x1="248.60" y1="247.90" x2="312.60" y2="239.90" stroke="#1c1c1c" stroke-width="1.1"/>
<path d="M246.80,190.07 L250.40,190.07 L248.60,193.67Z" fill="#ff6a0a"/>
<path d="M310.80,171.57 L314.40,171.57 L312.60,175.17Z" fill="#ff6a0a"/>
<path d="M246.80,211.27 L250.40,211.27 L248.60,214.87Z" fill="#ff6a0a"/>
<path d="M310.80,205.77 L314.40,205.77 L312.60,209.37Z" fill="#ff6a0a"/>
<path d="M246.80,239.67 L250.40,239.67 L248.60,243.27Z" fill="#ff6a0a"/>
<path d="M310.80,212.67 L314.40,212.67 L312.60,216.27Z" fill="#ff6a0a"/>
<path d="M246.80,252.97 L250.40,252.97 L248.60,256.57Z" fill="#ff6a0a"/>
<path d="M310.80,216.07 L314.40,216.07 L312.60,219.67Z" fill="#ff6a0a"/>
<path d="M246.80,254.87 L250.40,254.87 L248.60,258.47Z" fill="#ff6a0a"/>
<path d="M310.80,251.07 L314.40,251.07 L312.60,254.67Z" fill="#ff6a0a"/>
<path d="M246.80,241.47 L250.40,241.47 L248.60,245.07Z" fill="#ff6a0a"/>
<path d="M310.80,232.17 L314.40,232.17 L312.60,235.77Z" fill="#ff6a0a"/>
<path d="M246.80,242.97 L250.40,242.97 L248.60,246.57Z" fill="#ff6a0a"/>
<path d="M310.80,233.07 L314.40,233.07 L312.60,236.67Z" fill="#ff6a0a"/>
<path d="M246.80,244.47 L250.40,244.47 L248.60,248.07Z" fill="#ff6a0a"/>
<path d="M310.80,236.87 L314.40,236.87 L312.60,240.47Z" fill="#ff6a0a"/>
<path d="M246.80,246.37 L250.40,246.37 L248.60,249.97Z" fill="#ff6a0a"/>
<path d="M310.80,238.37 L314.40,238.37 L312.60,241.97Z" fill="#ff6a0a"/>
<line x1="216.60" y1="162.90" x2="216.60" y2="261.90" stroke="#262626" stroke-width="1.2"/>
<line x1="216.00" y1="261.40" x2="345.50" y2="261.40" stroke="#4a4a4a" stroke-width="1.3"/>
<line x1="214.00" y1="163.30" x2="216.60" y2="163.30" stroke="#262626" stroke-width="1"/>
<text x="213.30" y="166.35" font-size="7.4" text-anchor="end" textLength="7.6" lengthAdjust="spacingAndGlyphs">40</text>
<line x1="214.00" y1="187.82" x2="216.60" y2="187.82" stroke="#262626" stroke-width="1"/>
<text x="213.30" y="190.87" font-size="7.4" text-anchor="end" textLength="7.6" lengthAdjust="spacingAndGlyphs">30</text>
<line x1="214.00" y1="212.35" x2="216.60" y2="212.35" stroke="#262626" stroke-width="1"/>
<text x="213.30" y="215.40" font-size="7.4" text-anchor="end" textLength="7.6" lengthAdjust="spacingAndGlyphs">20</text>
<line x1="214.00" y1="236.88" x2="216.60" y2="236.88" stroke="#262626" stroke-width="1"/>
<text x="213.30" y="239.92" font-size="7.4" text-anchor="end" textLength="7.6" lengthAdjust="spacingAndGlyphs">10</text>
<line x1="214.00" y1="261.40" x2="216.60" y2="261.40" stroke="#262626" stroke-width="1"/>
<text x="213.30" y="264.45" font-size="7.4" text-anchor="end" textLength="3.8" lengthAdjust="spacingAndGlyphs">0</text>
<line x1="248.60" y1="261.40" x2="248.60" y2="264.20" stroke="#262626" stroke-width="1"/>
<line x1="312.60" y1="261.40" x2="312.60" y2="264.20" stroke="#262626" stroke-width="1"/>
<text x="248.70" y="273.40" font-size="7.6" text-anchor="middle" textLength="20.4" lengthAdjust="spacingAndGlyphs">Before</text>
<text x="305.00" y="273.40" font-size="7.6" text-anchor="middle" textLength="14.6" lengthAdjust="spacingAndGlyphs">After</text>
<text transform="translate(201.3,212.2) rotate(-90)" x="0" y="0" font-size="6.9" text-anchor="middle" textLength="35.4" lengthAdjust="spacingAndGlyphs" class="yl">FDP(mg/L)</text>
<text x="357.45" y="156.00" font-size="15.2" text-anchor="start" textLength="11.66" lengthAdjust="spacingAndGlyphs" class="lt">G</text>
<line x1="418.60" y1="226.20" x2="480.20" y2="250.30" stroke="#1c1c1c" stroke-width="1.1"/>
<line x1="418.60" y1="249.50" x2="480.20" y2="183.20" stroke="#1c1c1c" stroke-width="1.1"/>
<line x1="418.60" y1="240.40" x2="480.20" y2="229.30" stroke="#1c1c1c" stroke-width="1.1"/>
<line x1="418.60" y1="247.50" x2="480.20" y2="230.50" stroke="#1c1c1c" stroke-width="1.1"/>
<line x1="418.60" y1="248.50" x2="480.20" y2="237.90" stroke="#1c1c1c" stroke-width="1.1"/>
<line x1="418.60" y1="249.00" x2="480.20" y2="243.30" stroke="#1c1c1c" stroke-width="1.1"/>
<line x1="418.60" y1="250.00" x2="480.20" y2="247.20" stroke="#1c1c1c" stroke-width="1.1"/>
<line x1="418.60" y1="250.30" x2="480.20" y2="249.50" stroke="#1c1c1c" stroke-width="1.1"/>
<line x1="418.60" y1="246.80" x2="480.20" y2="250.50" stroke="#1c1c1c" stroke-width="1.1"/>
<circle cx="418.60" cy="226.20" r="1.8" fill="#f0148c"/>
<circle cx="480.20" cy="250.30" r="1.8" fill="#f0148c"/>
<circle cx="418.60" cy="249.50" r="1.8" fill="#f0148c"/>
<circle cx="480.20" cy="183.20" r="1.8" fill="#f0148c"/>
<circle cx="418.60" cy="240.40" r="1.8" fill="#f0148c"/>
<circle cx="480.20" cy="229.30" r="1.8" fill="#f0148c"/>
<circle cx="418.60" cy="247.50" r="1.8" fill="#f0148c"/>
<circle cx="480.20" cy="230.50" r="1.8" fill="#f0148c"/>
<circle cx="418.60" cy="248.50" r="1.8" fill="#f0148c"/>
<circle cx="480.20" cy="237.90" r="1.8" fill="#f0148c"/>
<circle cx="418.60" cy="249.00" r="1.8" fill="#f0148c"/>
<circle cx="480.20" cy="243.30" r="1.8" fill="#f0148c"/>
<circle cx="418.60" cy="250.00" r="1.8" fill="#f0148c"/>
<circle cx="480.20" cy="247.20" r="1.8" fill="#f0148c"/>
<circle cx="418.60" cy="250.30" r="1.8" fill="#f0148c"/>
<circle cx="480.20" cy="249.50" r="1.8" fill="#f0148c"/>
<circle cx="418.60" cy="246.80" r="1.8" fill="#f0148c"/>
<circle cx="480.20" cy="250.50" r="1.8" fill="#f0148c"/>
<line x1="388.20" y1="161.10" x2="388.20" y2="251.70" stroke="#555" stroke-width="1.3"/>
<line x1="387.60" y1="251.20" x2="511.00" y2="251.20" stroke="#4a4a4a" stroke-width="1.3"/>
<line x1="385.60" y1="161.50" x2="388.20" y2="161.50" stroke="#555" stroke-width="1"/>
<text x="384.90" y="164.69" font-size="7.8" text-anchor="end" textLength="3.4" lengthAdjust="spacingAndGlyphs">8</text>
<line x1="385.60" y1="183.93" x2="388.20" y2="183.93" stroke="#555" stroke-width="1"/>
<text x="384.90" y="187.12" font-size="7.8" text-anchor="end" textLength="3.4" lengthAdjust="spacingAndGlyphs">6</text>
<line x1="385.60" y1="206.35" x2="388.20" y2="206.35" stroke="#555" stroke-width="1"/>
<text x="384.90" y="209.54" font-size="7.8" text-anchor="end" textLength="3.4" lengthAdjust="spacingAndGlyphs">4</text>
<line x1="385.60" y1="228.77" x2="388.20" y2="228.77" stroke="#555" stroke-width="1"/>
<text x="384.90" y="231.97" font-size="7.8" text-anchor="end" textLength="3.4" lengthAdjust="spacingAndGlyphs">2</text>
<line x1="385.60" y1="251.20" x2="388.20" y2="251.20" stroke="#555" stroke-width="1"/>
<text x="384.90" y="254.39" font-size="7.8" text-anchor="end" textLength="3.4" lengthAdjust="spacingAndGlyphs">0</text>
<line x1="418.60" y1="251.20" x2="418.60" y2="253.80" stroke="#555" stroke-width="1"/>
<line x1="480.20" y1="251.20" x2="480.20" y2="253.80" stroke="#555" stroke-width="1"/>
<text x="418.80" y="262.50" font-size="7.0" text-anchor="middle" textLength="19.5" lengthAdjust="spacingAndGlyphs">Before</text>
<text x="480.00" y="262.50" font-size="7.0" text-anchor="middle" textLength="13.9" lengthAdjust="spacingAndGlyphs">After</text>
<text transform="translate(377.6,206.0) rotate(-90)" x="0" y="0" font-size="7.1" text-anchor="middle" textLength="88.0" lengthAdjust="spacingAndGlyphs" class="yl">Eosinophil counts (×10<tspan dy="-2.5" font-size="5.2">9</tspan><tspan dy="2.5">/L)</tspan></text>
<text x="527.70" y="157.50" font-size="15.2" text-anchor="start" textLength="10.72" lengthAdjust="spacingAndGlyphs" class="lt">H</text>
<line x1="611.30" y1="189.60" x2="654.80" y2="175.30" stroke="#444" stroke-width="0.7"/>
<line x1="611.30" y1="197.80" x2="654.80" y2="176.20" stroke="#444" stroke-width="0.7"/>
<line x1="611.30" y1="218.00" x2="654.80" y2="204.80" stroke="#444" stroke-width="0.7"/>
<line x1="611.30" y1="219.00" x2="654.80" y2="207.40" stroke="#444" stroke-width="0.7"/>
<line x1="611.30" y1="233.60" x2="654.80" y2="189.50" stroke="#444" stroke-width="0.7"/>
<line x1="611.30" y1="234.40" x2="654.80" y2="197.80" stroke="#444" stroke-width="0.7"/>
<line x1="611.30" y1="235.20" x2="654.80" y2="201.90" stroke="#444" stroke-width="0.7"/>
<line x1="611.30" y1="236.00" x2="654.80" y2="209.90" stroke="#444" stroke-width="0.7"/>
<line x1="611.30" y1="236.80" x2="654.80" y2="211.80" stroke="#444" stroke-width="0.7"/>
<line x1="611.30" y1="237.60" x2="654.80" y2="218.70" stroke="#444" stroke-width="0.7"/>
<circle cx="611.30" cy="189.60" r="2.0" fill="#ff0000"/>
<circle cx="654.80" cy="175.30" r="2.0" fill="#ff0000"/>
<circle cx="611.30" cy="197.80" r="2.0" fill="#ff0000"/>
<circle cx="654.80" cy="176.20" r="2.0" fill="#ff0000"/>
<circle cx="611.30" cy="218.00" r="2.0" fill="#ff0000"/>
<circle cx="654.80" cy="204.80" r="2.0" fill="#ff0000"/>
<circle cx="611.30" cy="219.00" r="2.0" fill="#ff0000"/>
<circle cx="654.80" cy="207.40" r="2.0" fill="#ff0000"/>
<circle cx="611.30" cy="233.60" r="2.0" fill="#ff0000"/>
<circle cx="654.80" cy="189.50" r="2.0" fill="#ff0000"/>
<circle cx="611.30" cy="234.40" r="2.0" fill="#ff0000"/>
<circle cx="654.80" cy="197.80" r="2.0" fill="#ff0000"/>
<circle cx="611.30" cy="235.20" r="2.0" fill="#ff0000"/>
<circle cx="654.80" cy="201.90" r="2.0" fill="#ff0000"/>
<circle cx="611.30" cy="236.00" r="2.0" fill="#ff0000"/>
<circle cx="654.80" cy="209.90" r="2.0" fill="#ff0000"/>
<circle cx="611.30" cy="236.80" r="2.0" fill="#ff0000"/>
<circle cx="654.80" cy="211.80" r="2.0" fill="#ff0000"/>
<circle cx="611.30" cy="237.60" r="2.0" fill="#ff0000"/>
<circle cx="654.80" cy="218.70" r="2.0" fill="#ff0000"/>
<line x1="582.30" y1="157.20" x2="582.30" y2="247.80" stroke="#262626" stroke-width="1.2"/>
<line x1="581.70" y1="247.30" x2="684.10" y2="247.30" stroke="#4a4a4a" stroke-width="1.3"/>
<line x1="579.00" y1="157.60" x2="582.30" y2="157.60" stroke="#262626" stroke-width="1"/>
<text x="578.30" y="160.51" font-size="7.0" text-anchor="end" textLength="9.75" lengthAdjust="spacingAndGlyphs">250</text>
<line x1="579.00" y1="175.54" x2="582.30" y2="175.54" stroke="#262626" stroke-width="1"/>
<text x="578.30" y="178.45" font-size="7.0" text-anchor="end" textLength="9.75" lengthAdjust="spacingAndGlyphs">200</text>
<line x1="579.00" y1="193.48" x2="582.30" y2="193.48" stroke="#262626" stroke-width="1"/>
<text x="578.30" y="196.39" font-size="7.0" text-anchor="end" textLength="9.75" lengthAdjust="spacingAndGlyphs">150</text>
<line x1="579.00" y1="211.42" x2="582.30" y2="211.42" stroke="#262626" stroke-width="1"/>
<text x="578.30" y="214.33" font-size="7.0" text-anchor="end" textLength="9.75" lengthAdjust="spacingAndGlyphs">100</text>
<line x1="579.00" y1="229.36" x2="582.30" y2="229.36" stroke="#262626" stroke-width="1"/>
<text x="578.30" y="232.27" font-size="7.0" text-anchor="end" textLength="6.5" lengthAdjust="spacingAndGlyphs">50</text>
<line x1="579.00" y1="247.30" x2="582.30" y2="247.30" stroke="#262626" stroke-width="1"/>
<text x="578.30" y="250.21" font-size="7.0" text-anchor="end" textLength="3.25" lengthAdjust="spacingAndGlyphs">0</text>
<line x1="611.30" y1="247.30" x2="611.30" y2="250.90" stroke="#262626" stroke-width="1"/>
<line x1="654.80" y1="247.30" x2="654.80" y2="250.90" stroke="#262626" stroke-width="1"/>
<text x="611.00" y="257.70" font-size="6.6" text-anchor="middle" textLength="17.9" lengthAdjust="spacingAndGlyphs">Before</text>
<text x="654.90" y="257.70" font-size="6.6" text-anchor="middle" textLength="12.7" lengthAdjust="spacingAndGlyphs">After</text>
<text transform="translate(555.6,202.0) rotate(-90)" x="0" y="0" font-size="6.6" text-anchor="middle" textLength="98.0" lengthAdjust="spacingAndGlyphs" class="yl">anti-BP180 IgG concentration</text>
<text transform="translate(562.6,201.3) rotate(-90)" x="0" y="0" font-size="6.6" text-anchor="middle" textLength="23.0" lengthAdjust="spacingAndGlyphs" class="yl">(U/mL)</text>
<path d="M609,162.7 V158.7 H653.8 V162.7" fill="none" stroke="#222" stroke-width="1.1"/>
<text x="631.70" y="158.60" font-size="11.5" text-anchor="middle" textLength="11.2" lengthAdjust="spacingAndGlyphs" class="st">**</text>
</svg>
</body></html>
